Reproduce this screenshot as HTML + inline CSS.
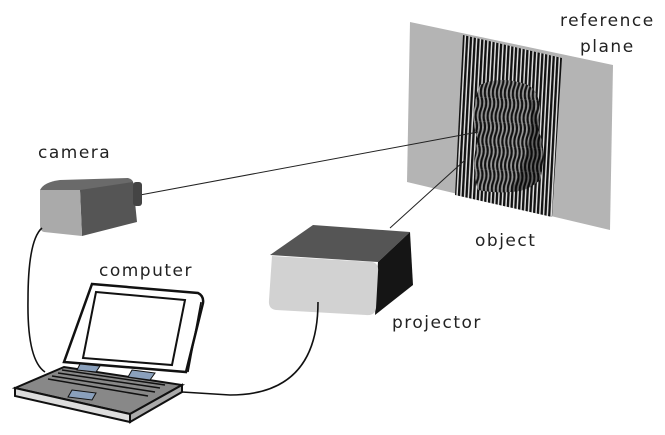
<!DOCTYPE html>
<html><head><meta charset="utf-8"><style>
html,body{margin:0;padding:0;background:#fff;}
svg{display:block;}
text{font-family:"DejaVu Sans","Liberation Sans",sans-serif;font-size:17px;fill:#222;letter-spacing:1.5px;}
</style></head><body>
<svg width="665" height="435" viewBox="0 0 665 435" xmlns="http://www.w3.org/2000/svg">
<defs>
<pattern id="st" width="3.8" height="10" patternUnits="userSpaceOnUse" patternTransform="rotate(3)">
<rect width="3.8" height="10" fill="#ddd"/><rect width="2.3" height="10" fill="#111"/>
</pattern>
<pattern id="wv" width="4" height="24" patternUnits="userSpaceOnUse" patternTransform="rotate(3)">
<rect width="4" height="24" fill="#999"/>
<path d="M2,0 Q4,6 2,12 Q0,18 2,24" fill="none" stroke="#111" stroke-width="2.2"/>
</pattern>
<clipPath id="sc"><polygon points="463,35 562,58 552,217 455,195"/></clipPath>
</defs>
<!-- reference plane -->
<polygon points="410,22 613,65 610,230 407,182" fill="#b4b4b4"/>
<polygon points="463,35 562,58 552,217 455,195" fill="url(#st)"/>
<g clip-path="url(#sc)">
<path d="M480,85 Q500,75 528,85 Q545,95 538,130 Q548,150 540,180 Q520,198 478,190 Q470,165 478,140 Q468,115 480,85Z" fill="url(#wv)"/>
<path d="M530,95 Q545,130 540,180 Q528,192 510,192 Q535,150 530,95Z" fill="#000" opacity="0.35"/>
</g>
<!-- rays -->
<line x1="140" y1="195" x2="478" y2="132" stroke="#222" stroke-width="1"/>
<line x1="390" y1="228" x2="465" y2="160" stroke="#222" stroke-width="1"/>
<!-- camera -->
<path d="M40,190 Q44,182 60,180 L128,178 Q135,180 133,186 L82,192 Z" fill="#6a6a6a"/>
<polygon points="80,190 133,182 137,222 82,236" fill="#555"/>
<rect x="133" y="182" width="9" height="24" rx="3" fill="#444"/>
<path d="M40,190 L80,190 L82,236 L44,232 Q40,231 40,226 Z" fill="#aaa"/>
<!-- projector -->
<polygon points="270,255 313,225 410,232 378,262" fill="#555"/>
<polygon points="378,262 410,232 413,285 375,315" fill="#151515"/>
<path d="M272,256 L372,262 Q379,263 378,272 L376,308 Q375,316 366,315 L276,310 Q268,309 269,300 Z" fill="#d2d2d2"/>
<!-- cables -->
<path d="M42,228 Q28,240 28,300 Q27,360 45,372" fill="none" stroke="#111" stroke-width="1.6"/>
<path d="M318,302 Q318,395 230,395 L182,392" fill="none" stroke="#111" stroke-width="1.6"/>
<!-- laptop screen -->
<path d="M92,284 L198,293 Q204,296 203,303 L186,372 L64,362 Z" fill="#fff" stroke="#111" stroke-width="2.5"/>
<polygon points="96,292 185,300 172,365 83,358" fill="#fff" stroke="#111" stroke-width="2"/>
<line x1="201" y1="302" x2="188" y2="372" stroke="#111" stroke-width="1.5"/>
<!-- laptop base -->
<polygon points="15,388 64,367 182,385 130,414" fill="#888" stroke="#111" stroke-width="2"/>
<polygon points="15,388 130,414 130,422 15,396" fill="#ddd" stroke="#111" stroke-width="2"/>
<polygon points="130,414 182,385 182,392 130,422" fill="#aaa" stroke="#111" stroke-width="2"/>
<g stroke="#111" stroke-width="1.5">
<line x1="52" y1="376" x2="155" y2="392"/><line x1="58" y1="373" x2="160" y2="388"/>
<line x1="62" y1="370" x2="165" y2="385"/><line x1="48" y1="379" x2="148" y2="396"/>
</g>
<polygon points="80,364 100,366 96,372 77,370" fill="#8aa0bc" stroke="#111"/>
<polygon points="132,370 155,373 150,380 128,377" fill="#8aa0bc" stroke="#111"/>
<polygon points="72,390 96,393 92,400 68,397" fill="#8aa0bc" stroke="#111"/>
<!-- labels -->
<text x="560" y="26">reference</text>
<text x="580" y="52">plane</text>
<text x="38" y="158">camera</text>
<text x="99" y="276">computer</text>
<text x="475" y="246">object</text>
<text x="392" y="328">projector</text>
</svg>
</body></html>
